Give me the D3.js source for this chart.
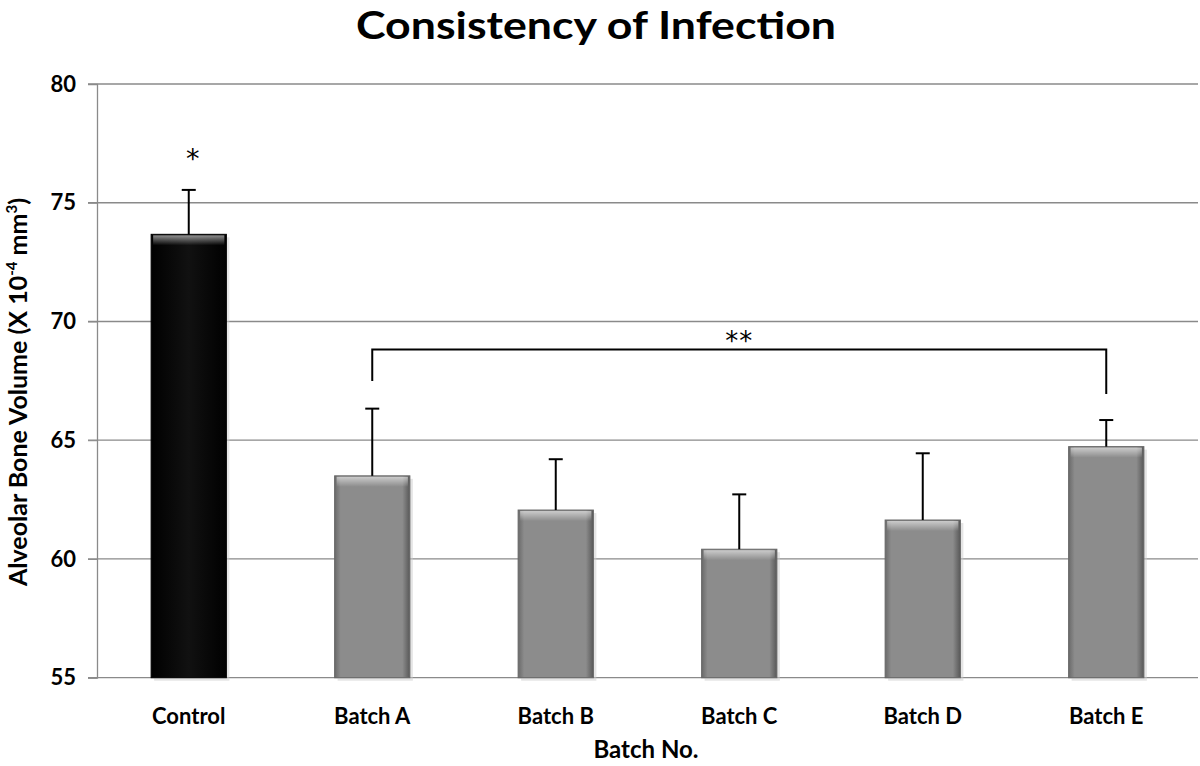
<!DOCTYPE html>
<html>
<head>
<meta charset="utf-8">
<script src="https://cdn.jsdelivr.net/npm/d3@7"></script>
<style>
  body { margin: 0; background: #fff; }
  text { font-family: Lato, "Open Sans", sans-serif; font-weight: bold; fill: #000; }
</style>
</head>
<body>
<div id="chart"></div>
<script>
// data
const batches = ["Control", "Batch A", "Batch B", "Batch C", "Batch D", "Batch E"];
const volumes = [73.67, 63.5, 62.06, 60.41, 61.64, 64.73];
const upperErr = [75.54, 66.33, 64.2, 62.72, 64.45, 65.85];
const yTicks = [55, 60, 65, 70, 75, 80];

const W = 1200, H = 766;
const margin = { left: 97, right: 2, top: 84, bottom: 88 };

const svg = d3.select("#chart").append("svg")
  .attr("width", W).attr("height", H);

const defs = svg.append("defs");
const gGray = defs.append("linearGradient").attr("id", "gray").attr("x1", 0).attr("x2", 1);
gGray.append("stop").attr("offset", "0").attr("stop-color", "#6a6a6a");
gGray.append("stop").attr("offset", "0.08").attr("stop-color", "#8c8c8c");
gGray.append("stop").attr("offset", "0.9").attr("stop-color", "#8c8c8c");
gGray.append("stop").attr("offset", "1").attr("stop-color", "#585858");
const gTop = defs.append("linearGradient").attr("id", "topg").attr("x1", 0).attr("x2", 0).attr("y1", 0).attr("y2", 1);
gTop.append("stop").attr("offset", "0").attr("stop-color", "#fff").attr("stop-opacity", 0.55);
gTop.append("stop").attr("offset", "1").attr("stop-color", "#fff").attr("stop-opacity", 0);
const gBlack = defs.append("linearGradient").attr("id", "black").attr("x1", 0).attr("x2", 1);
gBlack.append("stop").attr("offset", "0").attr("stop-color", "#000");
gBlack.append("stop").attr("offset", "0.5").attr("stop-color", "#111");
gBlack.append("stop").attr("offset", "1").attr("stop-color", "#000");

const x = d3.scaleBand().domain(batches)
  .range([margin.left, W - margin.right]).paddingInner(0.59).paddingOuter(0.295);
const y = d3.scaleLinear().domain([55, 80]).range([H - margin.bottom - 0.3, margin.top]);

// gridlines
svg.append("g").selectAll("line").data(yTicks).enter().append("line")
  .attr("x1", margin.left - 9).attr("x2", W - margin.right)
  .attr("y1", d => y(d)).attr("y2", d => y(d))
  .attr("stroke", "#8a8a8a").attr("stroke-width", 1.3);

// y axis
const yAxis = svg.append("g").attr("transform", `translate(${margin.left},0)`)
  .call(d3.axisLeft(y).tickValues(yTicks).tickSize(9).tickPadding(12));
yAxis.select(".domain").attr("stroke", "#8a8a8a").attr("stroke-width", 1.3);
yAxis.selectAll(".tick line").attr("stroke", "#8a8a8a");
yAxis.selectAll("text").attr("font-size", "22px").style("font-family", "Lato, sans-serif").attr("font-weight", "bold");

// bars
const bars = svg.append("g").selectAll("g").data(batches).enter().append("g");
bars.append("rect")
  .attr("x", d => x(d) + 3).attr("width", x.bandwidth())
  .attr("y", (d, i) => y(volumes[i]) + 3).attr("height", (d, i) => y(55) - y(volumes[i]))
  .attr("fill", "#ccc").attr("opacity", 0.5);
bars.append("rect")
  .attr("x", d => x(d)).attr("width", x.bandwidth())
  .attr("y", (d, i) => y(volumes[i])).attr("height", (d, i) => y(55) - y(volumes[i]))
  .attr("fill", (d, i) => i === 0 ? "url(#black)" : "url(#gray)")
  .attr("stroke", (d, i) => i === 0 ? "#000" : "#666").attr("stroke-width", 1);
bars.append("rect")
  .attr("x", d => x(d) + 2).attr("width", x.bandwidth() - 4)
  .attr("y", (d, i) => y(volumes[i]) + 1).attr("height", 10)
  .attr("fill", "url(#topg)");

// error bars (upper only)
const err = svg.append("g").attr("stroke", "#000").attr("stroke-width", 2);
err.selectAll(".v").data(batches).enter().append("line")
  .attr("x1", d => x(d) + x.bandwidth() / 2).attr("x2", d => x(d) + x.bandwidth() / 2)
  .attr("y1", (d, i) => y(volumes[i])).attr("y2", (d, i) => y(upperErr[i]));
err.selectAll(".c").data(batches).enter().append("line")
  .attr("x1", d => x(d) + x.bandwidth() / 2 - 7).attr("x2", d => x(d) + x.bandwidth() / 2 + 7)
  .attr("y1", (d, i) => y(upperErr[i])).attr("y2", (d, i) => y(upperErr[i]));

// significance marks
const cx = d => x(d) + x.bandwidth() / 2;
svg.append("text").attr("x", cx("Control") + 4).attr("y", 168)
  .attr("text-anchor", "middle").attr("font-size", "27px").style("font-weight", "normal")
  .style("font-family", "DejaVu Sans, sans-serif").text("*");
svg.append("path")
  .attr("d", `M${cx("Batch A")},${381} V${349.5} H${cx("Batch E")} V${394}`)
  .attr("fill", "none").attr("stroke", "#000").attr("stroke-width", 2);
svg.append("text").attr("x", (cx("Batch A") + cx("Batch E")) / 2).attr("y", 350)
  .attr("text-anchor", "middle").attr("font-size", "26px").style("font-weight", "normal")
  .style("font-family", "DejaVu Sans, sans-serif").attr("letter-spacing", "1px").text("**");

// category labels
svg.append("g").selectAll("text").data(batches).enter().append("text")
  .attr("x", d => cx(d)).attr("y", 724)
  .attr("text-anchor", "middle").attr("font-size", "22px").text(d => d);

// titles
svg.append("text").attr("x", 596).attr("y", 39)
  .attr("text-anchor", "middle").attr("font-size", "38px")
  .attr("textLength", 480).attr("lengthAdjust", "spacingAndGlyphs")
  .text("Consistency of Infection");
svg.append("text").attr("x", 646).attr("y", 758)
  .attr("text-anchor", "middle").attr("font-size", "24px").text("Batch No.");

const yl = svg.append("text")
  .attr("transform", `translate(27,${392}) rotate(-90)`)
  .attr("text-anchor", "middle").attr("font-size", "25px");
yl.append("tspan").text("Alveolar Bone Volume (X 10");
yl.append("tspan").attr("dy", -10).attr("font-size", "15px").text("-4");
yl.append("tspan").attr("dy", 10).text(" mm");
yl.append("tspan").attr("dy", -10).attr("font-size", "15px").text("3");
yl.append("tspan").attr("dy", 10).text(")");
</script>
</body>
</html>
